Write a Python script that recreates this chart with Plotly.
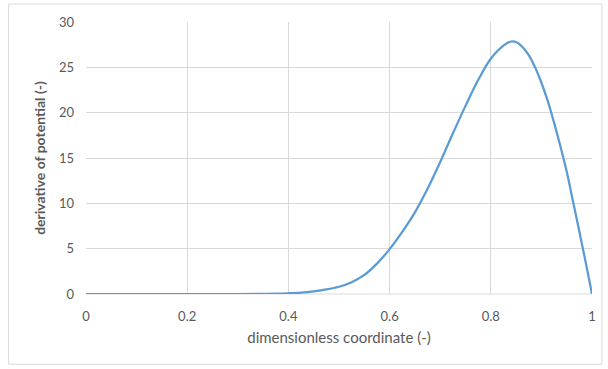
import plotly.graph_objects as go

x_vals = [0.0, 0.1, 0.2, 0.3, 0.35, 0.375, 0.4, 0.425, 0.45, 0.475, 0.5, 0.525, 0.55, 0.575,
          0.6, 0.625, 0.65, 0.675, 0.7, 0.725, 0.75, 0.775, 0.8, 0.825, 0.84, 0.85,
          0.8625, 0.875, 0.8875, 0.9, 0.9125, 0.925, 0.9375, 0.95, 0.9625, 0.975, 0.9875, 1.0]
y_vals = [0.0, 0.0, 0.0, 0.0, 0.01, 0.03, 0.08, 0.16, 0.3, 0.5, 0.8, 1.3, 2.1, 3.35,
          4.95, 6.85, 9.0, 11.6, 14.55, 17.7, 20.75, 23.6, 25.95, 27.4, 27.85, 27.8,
          27.25, 26.35, 25.0, 23.3, 21.3, 18.9, 16.3, 13.5, 10.2, 6.9, 3.5, 0.0]

x_ticks = [0, 0.2, 0.4, 0.6, 0.8, 1]
x_tick_labels = ["0", "0.2", "0.4", "0.6", "0.8", "1"]
y_ticks = [0, 5, 10, 15, 20, 25, 30]

x_title = "dimensionless coordinate (-)"
y_title = "<b>derivative of potential (-)</b>"

font_family = "Lato, Open Sans, sans-serif"
grey = "#595959"
grid = "#D9D9D9"

fig = go.Figure()
fig.add_trace(go.Scatter(
    x=x_vals, y=y_vals, mode="lines",
    line=dict(color="#5B9BD5", width=2.25, shape="spline", smoothing=1.0),
    showlegend=False, hoverinfo="skip",
))

fig.update_layout(
    width=608, height=369,
    margin=dict(l=86, r=12, t=22, b=75),
    paper_bgcolor="white", plot_bgcolor="white",
    font=dict(family=font_family, size=13, color=grey),
    xaxis=dict(
        range=[0, 1], tickmode="array", tickvals=x_ticks, ticktext=x_tick_labels,
        showgrid=True, gridcolor=grid, gridwidth=1, zeroline=False,
        showline=False, ticks="", tickfont=dict(size=13, color=grey),
        ticklabelstandoff=13,
        title=dict(text=x_title, font=dict(size=15, color=grey), standoff=9),
    ),
    yaxis=dict(
        range=[0, 30], tickmode="array", tickvals=y_ticks,
        showgrid=True, gridcolor=grid, gridwidth=1, zeroline=False,
        showline=False, ticks="", tickfont=dict(size=13, color=grey),
        ticklabelstandoff=11,
        title=dict(text=y_title, font=dict(size=14, color=grey), standoff=10),
    ),
    shapes=[
        dict(type="rect", xref="paper", yref="paper",
             x0=-0.1529, x1=1.0196, y0=-0.258, y1=1.066,
             line=dict(color="#D9D9D9", width=1), fillcolor="rgba(0,0,0,0)",
             layer="below"),
        dict(type="line", xref="paper", yref="paper", x0=0, x1=1, y0=0, y1=0,
             line=dict(color=grid, width=1), layer="below"),
    ],
)

fig.write_html("out.html", config={"displayModeBar": False},
               post_script="document.body.style.margin='0';")
